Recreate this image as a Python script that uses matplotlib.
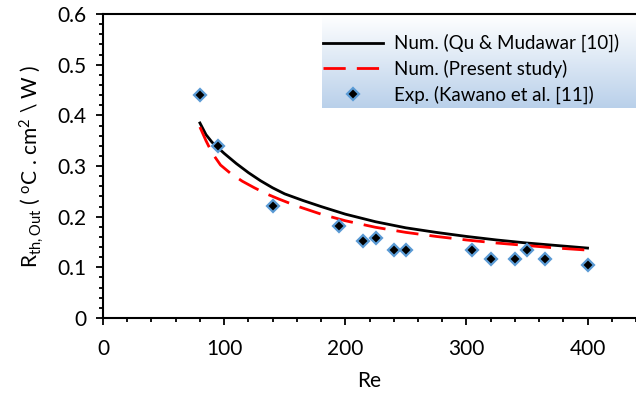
import matplotlib.pyplot as plt
import numpy as np
from matplotlib.ticker import MultipleLocator
from matplotlib.colors import LinearSegmentedColormap

plt.rcParams['font.family'] = ['Lato', 'DejaVu Sans']
plt.rcParams['mathtext.default'] = 'regular'

# Num. (Qu & Mudawar [10])
re_qu = [80, 85, 90, 100, 110, 120, 130, 140, 150, 165, 180, 200, 225, 250, 275, 300, 325, 350, 375, 400]
r_qu = [0.385, 0.362, 0.347, 0.325, 0.305, 0.287, 0.271, 0.257, 0.245, 0.232, 0.220, 0.205, 0.190, 0.178, 0.169, 0.161, 0.154, 0.148, 0.143, 0.138]

# Num. (Present study)
re_ps = [80, 85, 90, 97, 105, 115, 125, 135, 145, 160, 180, 200, 225, 250, 275, 300, 325, 350, 375, 400]
r_ps = [0.377, 0.350, 0.326, 0.302, 0.286, 0.270, 0.257, 0.245, 0.235, 0.221, 0.205, 0.192, 0.179, 0.169, 0.161, 0.154, 0.148, 0.143, 0.138, 0.134]

# Exp. (Kawano et al. [11])
re_exp = [80, 95, 140, 195, 215, 225, 240, 250, 305, 320, 340, 350, 365, 400]
r_exp = [0.44, 0.34, 0.221, 0.182, 0.152, 0.158, 0.134, 0.134, 0.134, 0.116, 0.116, 0.134, 0.116, 0.105]

fig = plt.figure(figsize=(6.36, 4.03), dpi=100)
ax = fig.add_axes([0.162, 0.211, 0.838, 0.754])

ax.plot(re_qu, r_qu, color='black', linewidth=2, label='Num. (Qu & Mudawar [10])', zorder=3)
ax.plot(re_ps, r_ps, color='red', linewidth=2, dashes=(8, 4), label='Num. (Present study)', zorder=3)
ax.plot(re_exp, r_exp, linestyle='none', marker='D', markersize=6.5, markerfacecolor='black',
        markeredgecolor='#5b9bd5', markeredgewidth=1.6, label='Exp. (Kawano et al. [11])', zorder=4)

# gradient background behind the legend
grad = np.linspace(0, 1, 256).reshape(-1, 1)
cmap = LinearSegmentedColormap.from_list('lg', ['#b9d0ea', '#ffffff'])
ax.imshow(grad, cmap=cmap, aspect='auto', extent=[0.41, 1.0, 0.69, 0.995],
          transform=ax.transAxes, zorder=1, origin='lower')

ax.set_xlim(0, 440)
ax.set_ylim(0, 0.6)
ax.xaxis.set_major_locator(MultipleLocator(100))
ax.xaxis.set_minor_locator(MultipleLocator(20))
ax.yaxis.set_minor_locator(MultipleLocator(0.02))
ax.set_yticks([0, 0.1, 0.2, 0.3, 0.4, 0.5, 0.6])
ax.set_yticklabels(['0', '0.1', '0.2', '0.3', '0.4', '0.5', '0.6'])

ax.tick_params(which='major', direction='out', length=5, width=1.3, labelsize=15)
ax.tick_params(axis='x', which='major', pad=10)
ax.tick_params(axis='y', which='major', pad=7)
ax.tick_params(which='minor', direction='out', length=3, width=1.3)
ax.tick_params(top=False, right=False, which='both')
for s in ['left', 'bottom', 'top']:
    ax.spines[s].set_linewidth(1.5)
ax.spines['right'].set_visible(False)

ax.set_xlabel('Re', fontsize=15, labelpad=9)
ax.set_ylabel(r'R$_{th,Out}$ ( $^{o}$C . cm$^{2}$ \ W )', fontsize=15, labelpad=8)

leg = ax.legend(loc='upper right', bbox_to_anchor=(1.0, 0.99), frameon=False,
                fontsize=13.5, handlelength=3.2, handletextpad=0.6, labelspacing=0.4)
leg.set_zorder(5)

fig.savefig('out.png', dpi=100)
